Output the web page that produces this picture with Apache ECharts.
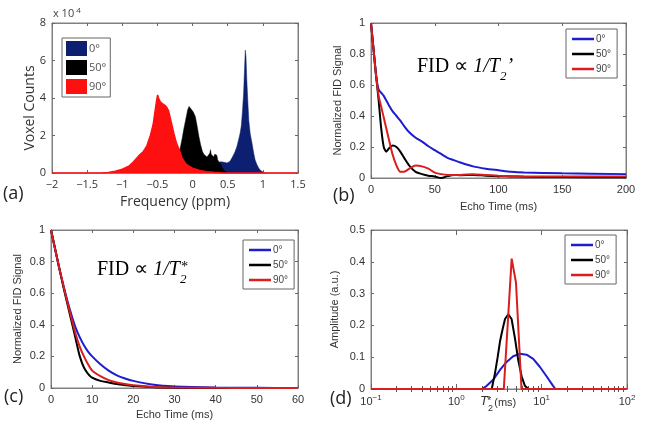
<!DOCTYPE html>
<html><head><meta charset="utf-8">
<script src="https://cdn.jsdelivr.net/npm/echarts@6/dist/echarts.min.js"></script>
<style>html,body{margin:0;padding:0;background:#fff}#c{width:649px;height:426px}</style>
</head><body><div id="c"></div>
<script>
// ---------- Panel (a): histogram, voxel counts in units of 10^4 ----------
const freqBlue = [0.3, 0.37, 0.4, 0.45, 0.49, 0.53, 0.56, 0.6, 0.63, 0.655, 0.675, 0.693, 0.71, 0.726, 0.74, 0.75, 0.76, 0.77, 0.785, 0.8, 0.82, 0.845, 0.87, 0.89, 0.915, 0.94, 0.965, 0.986, 1.01, 1.04];
const countsBlue = [0, 0.55, 0.6, 0.57, 0.53, 0.62, 0.8, 1.1, 1.4, 1.77, 2.1, 2.5, 3.3, 4.25, 5.6, 6.55, 6.2, 5.1, 3.9, 2.8, 2.1, 1.6, 1.05, 0.7, 0.45, 0.27, 0.15, 0.09, 0.03, 0];
const freqBlack = [-0.45, -0.35, -0.3, -0.25, -0.2, -0.18, -0.15, -0.127, -0.1, -0.07, -0.05, -0.04, -0.025, -0.01, 0.01, 0.04, 0.065, 0.09, 0.115, 0.14, 0.16, 0.18, 0.205, 0.23, 0.245, 0.255, 0.265, 0.28, 0.3, 0.315, 0.33, 0.345, 0.357, 0.375, 0.395, 0.42, 0.45, 0.5];
const countsBlack = [0, 0.3, 0.5, 0.8, 1.1, 1.25, 1.8, 2.3, 2.8, 3.36, 3.55, 3.63, 3.5, 3.36, 3.25, 3.0, 2.5, 1.95, 1.5, 1.15, 1.0, 0.9, 0.85, 0.8, 1.05, 1.24, 1.0, 0.97, 0.85, 1.0, 1.06, 0.95, 0.7, 0.62, 0.5, 0.3, 0.12, 0];
const freqRed = [-2, -1.3, -1.2, -1.1, -1.0, -0.9, -0.84, -0.77, -0.7, -0.65, -0.6, -0.56, -0.53, -0.51, -0.497, -0.485, -0.46, -0.43, -0.39, -0.36, -0.34, -0.315, -0.29, -0.265, -0.245, -0.22, -0.19, -0.15, -0.1, -0.05, 0, 0.1, 0.2, 0.3, 0.4, 0.5, 1.5];
const countsRed = [0, 0, 0.03, 0.1, 0.2, 0.38, 0.6, 0.9, 1.15, 1.45, 2.0, 2.6, 3.4, 3.9, 4.16, 4.0, 3.8, 3.7, 3.6, 3.45, 3.3, 2.9, 2.5, 2.1, 1.8, 1.5, 1.25, 0.8, 0.5, 0.36, 0.26, 0.13, 0.07, 0.035, 0.012, 0, 0];

// ---------- Panel (b): FID ∝ 1/T2' ----------
const echoTimeB = [0, 2, 4, 6, 8, 10, 12, 14, 17, 20, 23, 26, 30, 35, 40, 45, 50, 55, 60, 65, 70, 80, 90, 100, 110, 120, 150, 200];
const fidB0  = [1.0, 0.83, 0.66, 0.57, 0.55, 0.53, 0.5, 0.47, 0.43, 0.40, 0.37, 0.335, 0.295, 0.26, 0.235, 0.205, 0.18, 0.155, 0.13, 0.115, 0.10, 0.075, 0.06, 0.05, 0.04, 0.035, 0.03, 0.025];
const fidB50 = [1.0, 0.83, 0.66, 0.5, 0.32, 0.2, 0.17, 0.19, 0.21, 0.2, 0.17, 0.13, 0.08, 0.04, 0.025, 0.015, 0.01, 0.0, 0.012, 0.02, 0.018, 0.02, 0.015, 0.012, 0.01, 0.008, 0.006, 0.005];
const fidB90 = [1.0, 0.83, 0.66, 0.53, 0.46, 0.39, 0.32, 0.25, 0.15, 0.08, 0.04, 0.04, 0.06, 0.08, 0.075, 0.06, 0.035, 0.025, 0.02, 0.02, 0.02, 0.025, 0.02, 0.015, 0.012, 0.01, 0.01, 0.01];

// ---------- Panel (c): FID ∝ 1/T2* ----------
const echoTimeC = [0, 1, 2, 3, 4, 5, 6, 7, 8, 9, 10, 12, 14, 16, 18, 20, 25, 30, 40, 50, 60];
const fidC0  = [1, 0.88, 0.76, 0.65, 0.55, 0.46, 0.38, 0.32, 0.27, 0.23, 0.2, 0.15, 0.11, 0.08, 0.06, 0.045, 0.02, 0.01, 0.003, 0.001, 0];
const fidC50 = [1, 0.88, 0.76, 0.64, 0.53, 0.42, 0.31, 0.2, 0.13, 0.09, 0.065, 0.045, 0.035, 0.025, 0.018, 0.012, 0.005, 0.002, 0, 0, 0];
const fidC90 = [1, 0.88, 0.76, 0.65, 0.54, 0.44, 0.34, 0.26, 0.2, 0.15, 0.11, 0.075, 0.05, 0.035, 0.025, 0.018, 0.007, 0.003, 0.001, 0, 0];

// ---------- Panel (d): T2* distributions ----------
const t2Blue  = [0.1, 2.0, 2.27, 2.72, 3.25, 3.88, 4.64, 5.56, 6.65, 7.96, 9.5, 11.4, 13.6, 14.5, 100];
const ampBlue = [0, 0, 0.01, 0.03, 0.06, 0.085, 0.103, 0.111, 0.108, 0.095, 0.07, 0.04, 0.01, 0, 0];
const t2Black  = [0.1, 2.6, 2.84, 3.05, 3.25, 3.5, 3.72, 4.06, 4.44, 4.86, 5.32, 5.82, 6.36, 6.97, 100];
const ampBlack = [0, 0, 0.05, 0.1, 0.15, 0.19, 0.22, 0.235, 0.22, 0.16, 0.09, 0.04, 0.01, 0, 0];
const t2Red  = [0.1, 3.6, 4.45, 5.0, 5.8, 100];
const ampRed = [0, 0, 0.41, 0.335, 0, 0];

const angleLabels = ['0°', '50°', '90°'];

const zip = (xs, ys) => xs.map((x, i) => [x, ys[i]]);
const histColors = ['#0d1f70', '#000000', '#ff1010'];
const lineColors = ['#1c1cd0', '#000000', '#d81e1e'];
const AX = '#808080';
const sansA = 'Open Sans';
const sansB = 'Liberation Sans';

const grids = [
  {left: 52, top: 23, width: 246, height: 150},
  {left: 371, top: 23, width: 255, height: 155},
  {left: 51, top: 230, width: 247, height: 158},
  {left: 371, top: 230, width: 256, height: 159}
].map(g => Object.assign(g, {show: true, borderColor: AX, borderWidth: 1, backgroundColor: '#fff'}));

function baseAxis(gi, extra, labels, font) {
  return Object.assign({
    gridIndex: gi,
    axisLine: {show: true, onZero: false, lineStyle: {color: AX, width: 1}},
    axisTick: {show: true, inside: true, length: 3, lineStyle: {color: '#666'}},
    splitLine: {show: false},
    axisLabel: labels ? {show: true, color: '#333', fontSize: 11, fontFamily: font, margin: 6} : {show: false}
  }, extra);
}
const minus = v => String(v).replace('-', '−');

const xAxis = [
  baseAxis(0, {type: 'value', min: -2, max: 1.5, interval: 0.5, position: 'bottom',
    name: 'Frequency (ppm)', nameLocation: 'middle', nameGap: 22,
    nameTextStyle: {fontFamily: sansA, fontSize: 14, color: '#333'}}, true, sansA),
  baseAxis(0, {type: 'value', min: -2, max: 1.5, interval: 0.5, position: 'top'}, false),
  baseAxis(1, {type: 'value', min: 0, max: 200, interval: 50, position: 'bottom',
    name: 'Echo Time (ms)', nameLocation: 'middle', nameGap: 23,
    nameTextStyle: {fontFamily: sansB, fontSize: 11, color: '#333'}}, true, sansB),
  baseAxis(1, {type: 'value', min: 0, max: 200, interval: 50, position: 'top'}, false),
  baseAxis(2, {type: 'value', min: 0, max: 60, interval: 10, position: 'bottom',
    name: 'Echo Time (ms)', nameLocation: 'middle', nameGap: 21,
    nameTextStyle: {fontFamily: sansB, fontSize: 11, color: '#333'}}, true, sansB),
  baseAxis(2, {type: 'value', min: 0, max: 60, interval: 10, position: 'top'}, false),
  baseAxis(3, {type: 'log', logBase: 10, min: 0.1, max: 100, position: 'bottom'}, true, sansB),
  baseAxis(3, {type: 'log', logBase: 10, min: 0.1, max: 100, position: 'top'}, false),
  // minor-tick decoration axes (log10 positions of 2..9 × decade)
  baseAxis(3, {type: 'value', min: -1, max: 2, position: 'bottom', axisLine: {show: false}}, false),
  baseAxis(3, {type: 'value', min: -1, max: 2, position: 'top', axisLine: {show: false}}, false)
];
xAxis[0].axisLabel.formatter = minus;
xAxis[6].axisLabel.formatter = v => '{b|10}{s|' + minus(Math.round(Math.log10(v))) + '}';
xAxis[6].axisLabel.rich = {
  b: {fontSize: 11, fontFamily: sansB, color: '#333', lineHeight: 13, verticalAlign: 'bottom'},
  s: {fontSize: 8, fontFamily: sansB, color: '#333', lineHeight: 8, verticalAlign: 'top', padding: [0, 0, 9, 0]}
};
xAxis[6].axisLabel.margin = 5;
xAxis[6].axisTick.length = 5;
xAxis[7].axisTick.length = 5;
const minorLogs = [];
[-1, 0, 1].forEach(d => { for (let k = 2; k <= 9; k++) minorLogs.push(d + Math.log10(k)); });
xAxis[8].axisTick = {show: true, inside: true, length: 3, customValues: minorLogs, lineStyle: {color: '#555'}};
xAxis[9].axisTick = {show: true, inside: true, length: 3, customValues: minorLogs, lineStyle: {color: '#555'}};

const yAxis = [
  baseAxis(0, {type: 'value', min: 0, max: 8, interval: 2, position: 'left'}, true, sansA),
  baseAxis(0, {type: 'value', min: 0, max: 8, interval: 2, position: 'right'}, false),
  baseAxis(1, {type: 'value', min: 0, max: 1, interval: 0.2, position: 'left',
    name: 'Normalized FID Signal', nameLocation: 'middle', nameGap: 28,
    nameTextStyle: {fontFamily: sansB, fontSize: 11, color: '#333'}}, true, sansB),
  baseAxis(1, {type: 'value', min: 0, max: 1, interval: 0.2, position: 'right'}, false),
  baseAxis(2, {type: 'value', min: 0, max: 1, interval: 0.2, position: 'left',
    name: 'Normalized FID Signal', nameLocation: 'middle', nameGap: 28,
    nameTextStyle: {fontFamily: sansB, fontSize: 11, color: '#333'}}, true, sansB),
  baseAxis(2, {type: 'value', min: 0, max: 1, interval: 0.2, position: 'right'}, false),
  baseAxis(3, {type: 'value', min: 0, max: 0.5, interval: 0.1, position: 'left',
    name: 'Amplitude (a.u.)', nameLocation: 'middle', nameGap: 31,
    nameTextStyle: {fontFamily: sansB, fontSize: 11, color: '#333'}}, true, sansB),
  baseAxis(3, {type: 'value', min: 0, max: 0.5, interval: 0.1, position: 'right'}, false)
];

const series = [];
// (a) areas: blue at back, black in the middle, red in front
[[freqBlue, countsBlue, 0], [freqBlack, countsBlack, 1], [freqRed, countsRed, 2]].forEach(([xs, ys, k]) => {
  series.push({
    name: 'a:' + angleLabels[k], type: 'line', xAxisIndex: 0, yAxisIndex: 0, z: 2 + k,
    data: zip(xs, ys), symbol: 'none', color: histColors[k],
    lineStyle: {color: histColors[k], width: k === 2 ? 1.5 : 0.5},
    areaStyle: {color: histColors[k], opacity: 1}
  });
});
const lineSeries = (panel, xi, yi, xsList, ysList, smooth) => ysList.forEach((ys, k) => {
  series.push({
    name: panel + ':' + angleLabels[k], type: 'line', xAxisIndex: xi, yAxisIndex: yi, z: 2 + k,
    data: zip(xsList[k], ys), symbol: 'none', smooth: smooth, color: lineColors[k],
    lineStyle: {color: lineColors[k], width: 2}
  });
});
lineSeries('b', 2, 2, [echoTimeB, echoTimeB, echoTimeB], [fidB0, fidB50, fidB90], 0.25);
lineSeries('c', 4, 4, [echoTimeC, echoTimeC, echoTimeC], [fidC0, fidC50, fidC90], 0.25);
lineSeries('d', 6, 6, [t2Blue, t2Black, t2Red], [ampBlue, ampBlack, ampRed], false);

const fmt = n => n.split(':')[1];
const lineLegend = (panel, left, top) => ({
  orient: 'vertical', left, top, data: angleLabels.map(a => panel + ':' + a), z: 10,
  icon: 'rect', itemWidth: 22, itemHeight: 2.5, itemGap: 5,
  padding: [5, 6, 4, 6], borderColor: '#666', borderWidth: 1, backgroundColor: '#fff',
  formatter: fmt, selectedMode: false,
  textStyle: {fontFamily: sansB, fontSize: 10, color: '#444', padding: [0, 0, 0, -3]}
});
const legend = [
  {orient: 'vertical', left: 62, top: 38, data: angleLabels.map(a => 'a:' + a), z: 10,
   icon: 'rect', itemWidth: 21, itemHeight: 15, itemGap: 4, padding: [3, 4, 3, 4],
   borderColor: '#666', borderWidth: 1, backgroundColor: '#fff', formatter: fmt, selectedMode: false,
   textStyle: {fontFamily: sansA, fontSize: 11, color: '#555', padding: [0, 0, 0, -3]}},
  lineLegend('b', 566, 29),
  lineLegend('c', 243, 240),
  lineLegend('d', 565, 235)
];

const serif = 'Liberation Serif';
const fidRich = {
  n: {fontFamily: serif, fontSize: 20, fill: '#000', lineHeight: 22, verticalAlign: 'top'},
  i: {fontFamily: serif, fontSize: 20, fontStyle: 'italic', fill: '#000', lineHeight: 22, verticalAlign: 'top'},
  sub: {fontFamily: serif, fontSize: 13, fontStyle: 'italic', fill: '#000', lineHeight: 13, verticalAlign: 'top', padding: [13, 0, 0, 0]},
  sup: {fontFamily: serif, fontSize: 14, fontStyle: 'italic', fill: '#000', lineHeight: 14, verticalAlign: 'top', padding: [0, 0, 0, -6]}
};
const graphic = [
  {type: 'text', x: 30, y: 108, rotation: Math.PI / 2,
   style: {text: 'Voxel Counts', fontFamily: sansA, fontSize: 14, fill: '#333', align: 'center', verticalAlign: 'middle'}},
  {type: 'text', left: 3, top: 185, style: {text: '(a)', fontFamily: sansA, fontSize: 18, fill: '#222'}},
  {type: 'text', left: 333, top: 187, style: {text: '(b)', fontFamily: sansA, fontSize: 18, fill: '#222'}},
  {type: 'text', left: 4, top: 388, style: {text: '(c)', fontFamily: sansA, fontSize: 18, fill: '#222'}},
  {type: 'text', left: 330, top: 390, style: {text: '(d)', fontFamily: sansA, fontSize: 18, fill: '#222'}},
  {type: 'text', left: 417, top: 57, style: {text: '{n|FID ∝ }{i|1/T}{sub|2}{i|’}', rich: fidRich}},
  {type: 'text', left: 97, top: 260, style: {text: '{n|FID ∝ }{i|1/T}{sub|2}{sup|*}', rich: fidRich}},
  {type: 'text', left: 53, top: 7, style: {text: '{m|x 10}{s|4}', rich: {
    m: {fontFamily: sansA, fontSize: 11, fill: '#444', lineHeight: 12, verticalAlign: 'bottom'},
    s: {fontFamily: sansA, fontSize: 8, fill: '#444', lineHeight: 8, verticalAlign: 'top', padding: [0, 0, 6, 2]}}}},
  {type: 'text', left: 480, top: 395, style: {text: '{t|T}{sub|2}{sup|*}{n| (ms)}', rich: {
    t: {fontFamily: sansB, fontSize: 13, fontStyle: 'italic', fill: '#333', lineHeight: 14, verticalAlign: 'top'},
    n: {fontFamily: sansB, fontSize: 11, fill: '#333', lineHeight: 14, verticalAlign: 'top', padding: [2, 0, 0, 0]},
    sub: {fontFamily: sansB, fontSize: 9, fill: '#333', lineHeight: 9, verticalAlign: 'top', padding: [9, 0, 0, 0]},
    sup: {fontFamily: sansB, fontSize: 11, fill: '#333', lineHeight: 11, verticalAlign: 'top', padding: [0, 0, 0, -6]}}}}
];

const chart = echarts.init(document.getElementById('c'), null, {renderer: 'canvas'});
chart.setOption({
  animation: false, backgroundColor: '#fff',
  grid: grids, xAxis, yAxis, series, legend, graphic
});
</script></body></html>
